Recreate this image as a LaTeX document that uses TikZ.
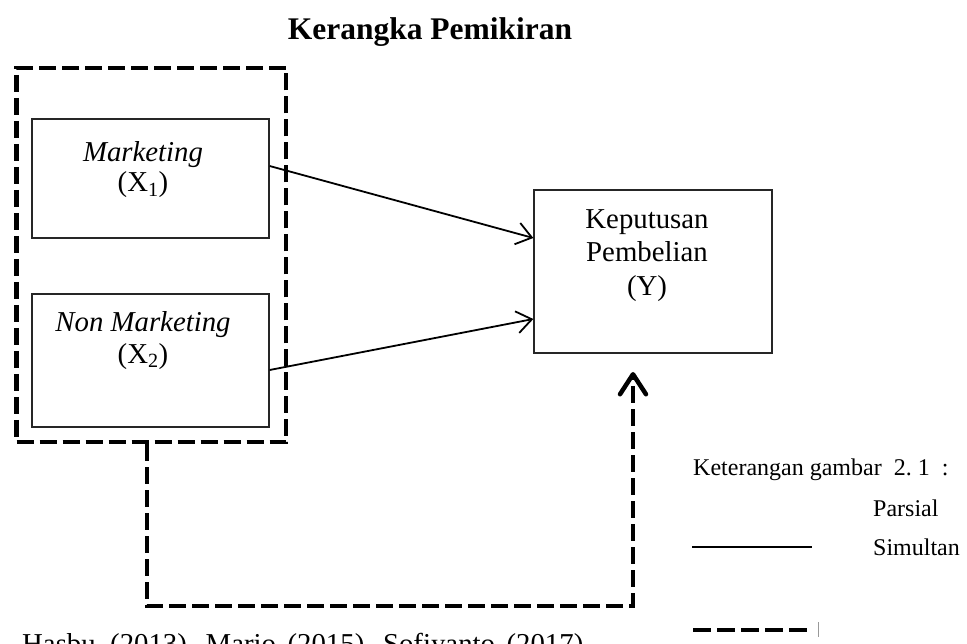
\documentclass[tikz,border=0pt]{standalone}
\usepackage{fontspec}
\setmainfont{Liberation Serif}
\usetikzlibrary{arrows.meta}
\begin{document}
\begin{tikzpicture}[x=1pt,y=-1pt,
  varbox/.style={draw=black!85,line width=1.3pt,rectangle,inner sep=0pt},
  maintxt/.style={anchor=base,inner sep=0pt,font=\fontsize{28.8}{30}\selectfont},
  legtxt/.style={anchor=base west,inner sep=0pt,font=\fontsize{24}{26}\selectfont},
  titletxt/.style={anchor=base,inner sep=0pt,font=\fontsize{31.5}{33}\selectfont\bfseries},
  partial/.style={line width=1.8pt,-{Straight Barb[length=15pt,width=22pt,line width=1.8pt]}},
  simult/.style={line width=4.5pt,dash pattern=on 17pt off 6pt,line join=miter},
]
\useasboundingbox (0,0) rectangle (967,644);
\begin{scope}
\clip (0,0) rectangle (967,644);

% title
\node[titletxt] (title) at (430,40) {Kerangka Pemikiran};

% group (simultaneous) dashed box
\node[simult,draw,rectangle,minimum width=269.5pt,minimum height=374pt,inner sep=0pt] (grp) at (151.25,255) {};

% X1
\node[varbox,minimum width=237pt,minimum height=119pt] (x1) at (150.5,178.5) {};
\node[maintxt] (x1a) at (143,162) {\itshape Marketing};
\node[maintxt] (x1b) at (143,192) {(X\textsubscript{1})};

% X2
\node[varbox,minimum width=237pt,minimum height=133pt] (x2) at (150.5,360.5) {};
\node[maintxt] (x2a) at (143,332) {\itshape Non Marketing};
\node[maintxt] (x2b) at (143,363) {(X\textsubscript{2})};

% Y
\node[varbox,minimum width=238pt,minimum height=163pt] (y) at (653,271.5) {};
\node[maintxt] (ya) at (647,229) {Keputusan};
\node[maintxt] (yb) at (647,262) {Pembelian};
\node[maintxt] (yc) at (647,296) {(Y)};

% partial arrows
\draw[partial] ([yshift=12.5pt]x1.east) -- ([yshift=33.5pt]y.west);
\draw[partial] ([yshift=-9.5pt]x2.east) -- ([yshift=-47.5pt]y.west);

% simultaneous arrow
\coordinate (corner) at (147,606);
\coordinate (tip) at (633,372);
\draw[simult,-{Straight Barb[length=20pt,width=26pt,line width=4.5pt,round]}]
  (grp.south -| corner) -- (corner) -| (tip);

% legend
\node[legtxt] (leg) at (693,475) {Keterangan gambar\hspace{0.5em}2.\hspace{0.25em}1\hspace{0.5em}:};
\node[legtxt] (parsial) at (873,516) {Parsial};
\node[legtxt] (simultan) at (873,555) {Simultan};
\coordinate (ls1) at (692,547);
\coordinate (ls2) at (812,547);
\draw[line width=2pt] (ls1) -- (ls2);
\coordinate (ld1) at (693,630);
\coordinate (ld2) at (810,630);
\draw[simult,dash pattern=on 18pt off 6pt] (ld1) -- (ld2);
\coordinate (tk1) at (818,622);
\coordinate (tk2) at (818,637);
\draw[black!40,line width=0.8pt] (tk1) -- (tk2);

% source line (cut off by page edge)
\node[anchor=base west,inner sep=0pt,font=\fontsize{28.8}{30}\selectfont] (src) at (22,653) {Hasbu\hspace{0.5em}(2013),\hspace{0.4em}Mario\hspace{0.4em}(2015),\hspace{0.4em}Sofiyanto\hspace{0.4em}(2017)};
\end{scope}
\end{tikzpicture}
\end{document}
